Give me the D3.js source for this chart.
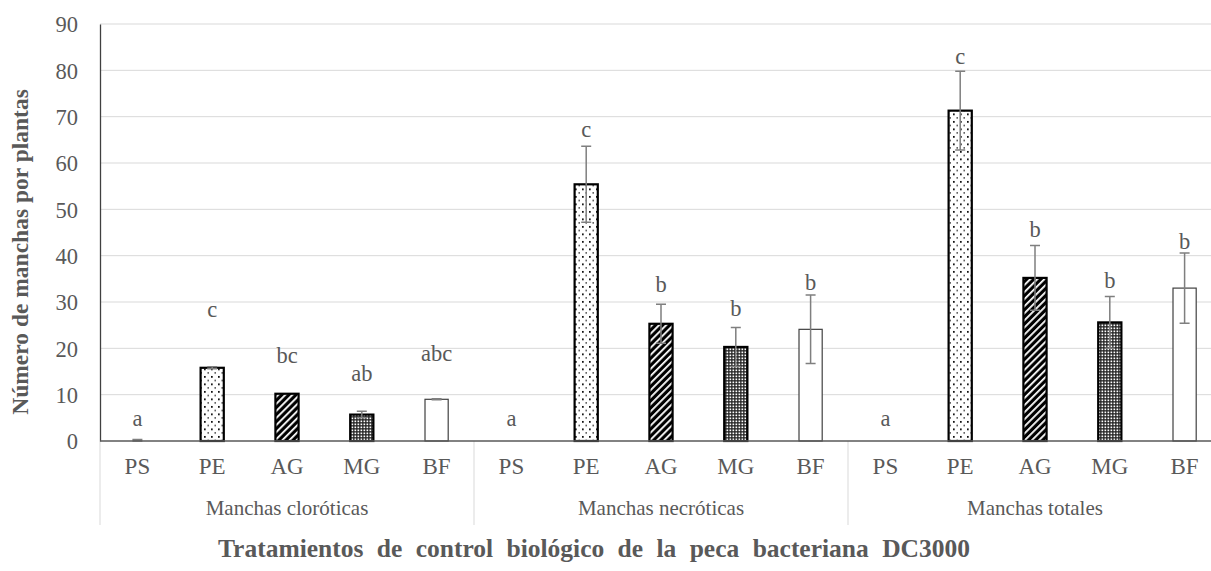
<!DOCTYPE html>
<meta charset="utf-8">
<style>
body { margin: 0; background: #fff; }
svg { display: block; }
text { font-family: "Liberation Serif", "Times New Roman", serif; fill: #595959; }
.tick text { font-size: 22.5px; }
.cat { font-size: 23px; }
.grp { font-size: 21px; }
.title { font-size: 23.5px; font-weight: bold; }
.letter { font-size: 22.5px; }
.grid line { stroke: #d9d9d9; stroke-width: 1px; }
.err { stroke: #7f7f7f; stroke-width: 1.5px; fill: none; }
</style>
<body>
<script src="https://d3js.org/d3.v7.min.js"></script>
<script>

var groups = ["Manchas cloróticas", "Manchas necróticas", "Manchas totales"];
var treatments = ["PS", "PE", "AG", "MG", "BF"];

// medias por grupo (orden PS, PE, AG, MG, BF)
var cloroticas = [0, 15.8, 10.2, 5.7, 9.0];
var necroticas = [0, 55.4, 25.3, 20.3, 24.1];
var totales    = [0, 71.3, 35.2, 25.6, 33.0];

// error estándar
var errCloroticas = [0.3, 0.2, 0, 0.7, 0.1];
var errNecroticas = [0, 8.2, 4.2, 4.2, 7.4];
var errTotales    = [0, 8.5, 7.0, 5.6, 7.6];

// letras de significancia y altura (en unidades del eje) a la que aparecen
var letrasCloroticas = ["a", "c", "bc", "ab", "abc"];
var letrasNecroticas = ["a", "c", "b", "b", "b"];
var letrasTotales    = ["a", "c", "b", "b", "b"];
var alturaCloroticas = [5, 28.5, 18.6, 14.7, 19.0];
var alturaNecroticas = [5, 67.3, 33.9, 28.7, 34.3];
var alturaTotales    = [5, 83.1, 45.8, 34.7, 43.2];

var yTicks = [0, 10, 20, 30, 40, 50, 60, 70, 80, 90];

var values = [cloroticas, necroticas, totales];
var errors = [errCloroticas, errNecroticas, errTotales];
var letters = [letrasCloroticas, letrasNecroticas, letrasTotales];
var letterPos = [alturaCloroticas, alturaNecroticas, alturaTotales];

var data = [];
groups.forEach(function(g, gi) {
  treatments.forEach(function(t, ti) {
    data.push({group: g, trt: t, value: values[gi][ti], err: errors[gi][ti],
               letter: letters[gi][ti], letterY: letterPos[gi][ti]});
  });
});

var width = 1211, height = 571;
var plotLeft = 100, plotRight = 1222, plotTop = 24, plotBottom = 441;

var svg = d3.select("body").append("svg")
  .attr("width", width)
  .attr("height", height);

var defs = svg.append("defs");

// PE: puntos
var pDots = defs.append("pattern").attr("id", "dots")
  .attr("patternUnits", "userSpaceOnUse").attr("width", 7).attr("height", 7.5);
pDots.append("rect").attr("width", 7).attr("height", 7.5).attr("fill", "#fff");
pDots.append("rect").attr("x", 1).attr("y", 1).attr("width", 1.7).attr("height", 1.7).attr("fill", "#000");
pDots.append("rect").attr("x", 4.5).attr("y", 4.75).attr("width", 1.4).attr("height", 1.4).attr("fill", "#222");

// AG: rayado diagonal
var pHatch = defs.append("pattern").attr("id", "hatch")
  .attr("patternUnits", "userSpaceOnUse").attr("width", 5).attr("height", 5)
  .attr("patternTransform", "rotate(45)");
pHatch.append("rect").attr("width", 5).attr("height", 5).attr("fill", "#000");
pHatch.append("rect").attr("width", 1.8).attr("height", 5).attr("fill", "#fff");

// MG: cuadrícula fina
var pGrid = defs.append("pattern").attr("id", "fine")
  .attr("patternUnits", "userSpaceOnUse").attr("width", 3).attr("height", 3);
pGrid.append("rect").attr("width", 3).attr("height", 3).attr("fill", "#222");
pGrid.append("rect").attr("x", 0.5).attr("y", 0.5).attr("width", 1.7).attr("height", 1.7).attr("fill", "#fff");

var fills = {PS: "#fff", PE: "url(#dots)", AG: "url(#hatch)", MG: "url(#fine)", BF: "#fff"};
var strokes = {PS: "#000", PE: "#000", AG: "#000", MG: "#000", BF: "#404040"};
var strokeW = {PS: 0, PE: 2.2, AG: 2.2, MG: 2.2, BF: 1.2};

var x0 = d3.scaleBand().domain(groups).range([plotLeft, plotRight]);
var x1 = d3.scaleBand().domain(treatments).range([0, x0.bandwidth()]);
var y = d3.scaleLinear().domain([0, 90]).range([plotBottom, plotTop]);

var barW = x1.bandwidth() * 0.31;
function cx(d) { return x0(d.group) + x1(d.trt) + x1.bandwidth() / 2; }

// gridlines
svg.append("g").attr("class", "grid")
  .selectAll("line").data(yTicks.slice(1)).enter().append("line")
  .attr("x1", plotLeft).attr("x2", plotRight)
  .attr("y1", function(d) { return y(d); }).attr("y2", function(d) { return y(d); });

// eje y
var yAxis = svg.append("g")
  .attr("transform", "translate(" + plotLeft + ",0)")
  .call(d3.axisLeft(y).tickValues(yTicks).tickSize(0).tickPadding(22));
yAxis.select(".domain").attr("stroke", "#404040").attr("stroke-width", 1.3);
yAxis.selectAll(".tick text").attr("dy", "0.35em");

// separadores de grupo bajo el eje
svg.append("g").selectAll("line")
  .data(groups.map(function(g) { return x0(g); }).concat([plotRight]))
  .enter().append("line")
  .attr("x1", function(d) { return d; }).attr("x2", function(d) { return d; })
  .attr("y1", plotBottom).attr("y2", 525)
  .attr("stroke", "#d9d9d9").attr("stroke-width", 1);

// barras
svg.append("g").selectAll("rect").data(data.filter(function(d) { return d.value > 0; }))
  .enter().append("rect")
  .attr("x", function(d) { return cx(d) - barW / 2; })
  .attr("y", function(d) { return y(d.value); })
  .attr("width", barW)
  .attr("height", function(d) { return y(0) - y(d.value); })
  .attr("fill", function(d) { return fills[d.trt]; })
  .attr("stroke", function(d) { return strokes[d.trt]; })
  .attr("stroke-width", function(d) { return strokeW[d.trt]; });

// barras de error
svg.append("g").selectAll("path").data(data.filter(function(d) { return d.err > 0; }))
  .enter().append("path")
  .attr("class", "err")
  .attr("d", function(d) {
    var c = cx(d), hi = y(d.value + d.err), lo = y(Math.max(0, d.value - d.err));
    return "M" + (c - 5) + "," + hi + "H" + (c + 5) + "M" + c + "," + hi + "V" + lo +
           "M" + (c - 5) + "," + lo + "H" + (c + 5);
  });

// línea base
svg.append("line")
  .attr("x1", plotLeft).attr("x2", plotRight).attr("y1", plotBottom).attr("y2", plotBottom)
  .attr("stroke", "#595959").attr("stroke-width", 1.5);

// letras
svg.append("g").selectAll("text").data(data).enter().append("text")
  .attr("class", "letter")
  .attr("x", cx)
  .attr("y", function(d) { return y(d.letterY); })
  .attr("dy", "0.35em")
  .attr("text-anchor", "middle")
  .text(function(d) { return d.letter; });

// etiquetas de categoría
svg.append("g").selectAll("text").data(data).enter().append("text")
  .attr("class", "cat")
  .attr("x", cx)
  .attr("y", 474)
  .attr("text-anchor", "middle")
  .text(function(d) { return d.trt; });

svg.append("g").selectAll("text").data(groups).enter().append("text")
  .attr("class", "grp")
  .attr("x", function(d) { return x0(d) + x0.bandwidth() / 2; })
  .attr("y", 515)
  .attr("text-anchor", "middle")
  .text(function(d) { return d; });

// títulos
svg.append("text").attr("class", "title")
  .attr("x", 594).attr("y", 557)
  .attr("text-anchor", "middle")
  .style("font-size", "25.5px")
  .style("word-spacing", "7px")
  .text("Tratamientos de control biológico de la peca bacteriana DC3000");

svg.append("text").attr("class", "title")
  .attr("transform", "translate(28,252) rotate(-90)")
  .attr("text-anchor", "middle")
  .text("Número de manchas por plantas");

</script>
</body>
